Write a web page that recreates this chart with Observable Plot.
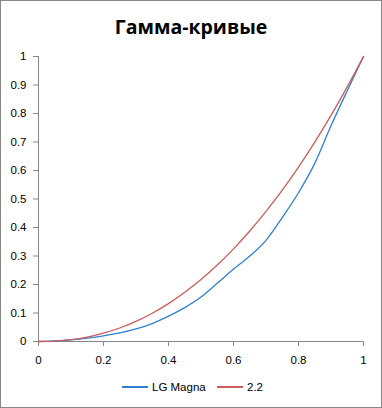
<!DOCTYPE html>
<html>
<head>
<meta charset="utf-8">
<script src="https://cdn.jsdelivr.net/npm/d3@7"></script>
<script src="https://cdn.jsdelivr.net/npm/@observablehq/plot@0.6"></script>
<style>
  html, body { margin: 0; padding: 0; background: #fff; }
  #wrap { position: relative; width: 382px; height: 408px; overflow: hidden; background: #fff; }
  #frame { position: absolute; left: 0; top: 0; width: 380px; height: 406px; border: 1px solid #868686; pointer-events: none; }
  #title { position: absolute; left: 0; top: 12px; width: 382px; text-align: center; font: bold 19.5px "Open Sans", sans-serif; line-height: 30px; color: #000; }
  #chart { position: absolute; left: 0; top: 46px; }
  #legend { position: absolute; left: 0; top: 378px; width: 382px; height: 18px; font: 11.5px "Liberation Sans", Arial, sans-serif; color: #000; }
  .item { position: absolute; top: 0; display: flex; align-items: center; height: 18px; }
  .sw { width: 26px; height: 0; border-top: 2px solid; margin-right: 4px; }
</style>
</head>
<body>
<div id="wrap">
  <div id="title">Гамма-кривые</div>
  <div id="chart"></div>
  <div id="legend"></div>
  <div id="frame"></div>
</div>
<script>
const xs = [0, 0.05, 0.1, 0.15, 0.2, 0.25, 0.3, 0.35, 0.4, 0.45, 0.5, 0.55, 0.6, 0.65, 0.7, 0.75, 0.8, 0.85, 0.9, 0.95, 1];
const lgMagna = [0, 0.002, 0.006, 0.012, 0.02, 0.03, 0.044, 0.063, 0.089, 0.119, 0.156, 0.204, 0.254, 0.3, 0.355, 0.435, 0.522, 0.625, 0.757, 0.88, 1];
const gamma22 = [0, 0.0014, 0.0063, 0.0154, 0.029, 0.0474, 0.0707, 0.0993, 0.1329, 0.1726, 0.2176, 0.2685, 0.325, 0.3877, 0.4563, 0.531, 0.6121, 0.6995, 0.7932, 0.8934, 1];
const seriesNames = ["LG Magna", "2.2"];
const seriesColors = ["#2f80d2", "#cc5c59"];
const xTicks = [0, 0.2, 0.4, 0.6, 0.8, 1];
const yTicks = [0, 0.1, 0.2, 0.3, 0.4, 0.5, 0.6, 0.7, 0.8, 0.9, 1];

const seriesValues = [lgMagna, gamma22];
const data = [];
seriesNames.forEach((name, i) => {
  xs.forEach((x, j) => data.push({ series: name, x, y: seriesValues[i][j] }));
});

const axisColor = "#868686";
const fmt = d => String(d);

const plot = Plot.plot({
  width: 382,
  height: 320,
  marginTop: 10,
  marginBottom: 25,
  marginLeft: 38,
  marginRight: 19,
  style: { fontFamily: "'Liberation Sans', Arial, sans-serif", fontSize: "11.5px", color: "#000", background: "transparent", overflow: "visible" },
  x: { domain: [0, 1] },
  y: { domain: [0, 1] },
  color: { domain: seriesNames, range: seriesColors },
  marks: [
    Plot.axisX({ ticks: xTicks, tickSize: 5, tickPadding: 9, tickFormat: fmt, stroke: axisColor, fill: "#000", label: null }),
    Plot.axisY({ ticks: yTicks, tickSize: 5, tickPadding: 7, tickFormat: fmt, stroke: axisColor, fill: "#000", label: null }),
    Plot.ruleX([0], { stroke: axisColor }),
    Plot.ruleY([0], { stroke: axisColor }),
    Plot.line(data, { x: "x", y: "y", z: "series", stroke: "series", strokeWidth: 1.3, curve: "monotone-x" })
  ]
});
document.getElementById("chart").appendChild(plot);

const legend = document.getElementById("legend");
const lefts = [122, 217];
seriesNames.forEach((name, i) => {
  const item = document.createElement("div");
  item.className = "item";
  item.style.left = lefts[i] + "px";
  const sw = document.createElement("span");
  sw.className = "sw";
  sw.style.borderColor = seriesColors[i];
  const t = document.createElement("span");
  t.textContent = name;
  item.appendChild(sw);
  item.appendChild(t);
  legend.appendChild(item);
});
</script>
</body>
</html>
